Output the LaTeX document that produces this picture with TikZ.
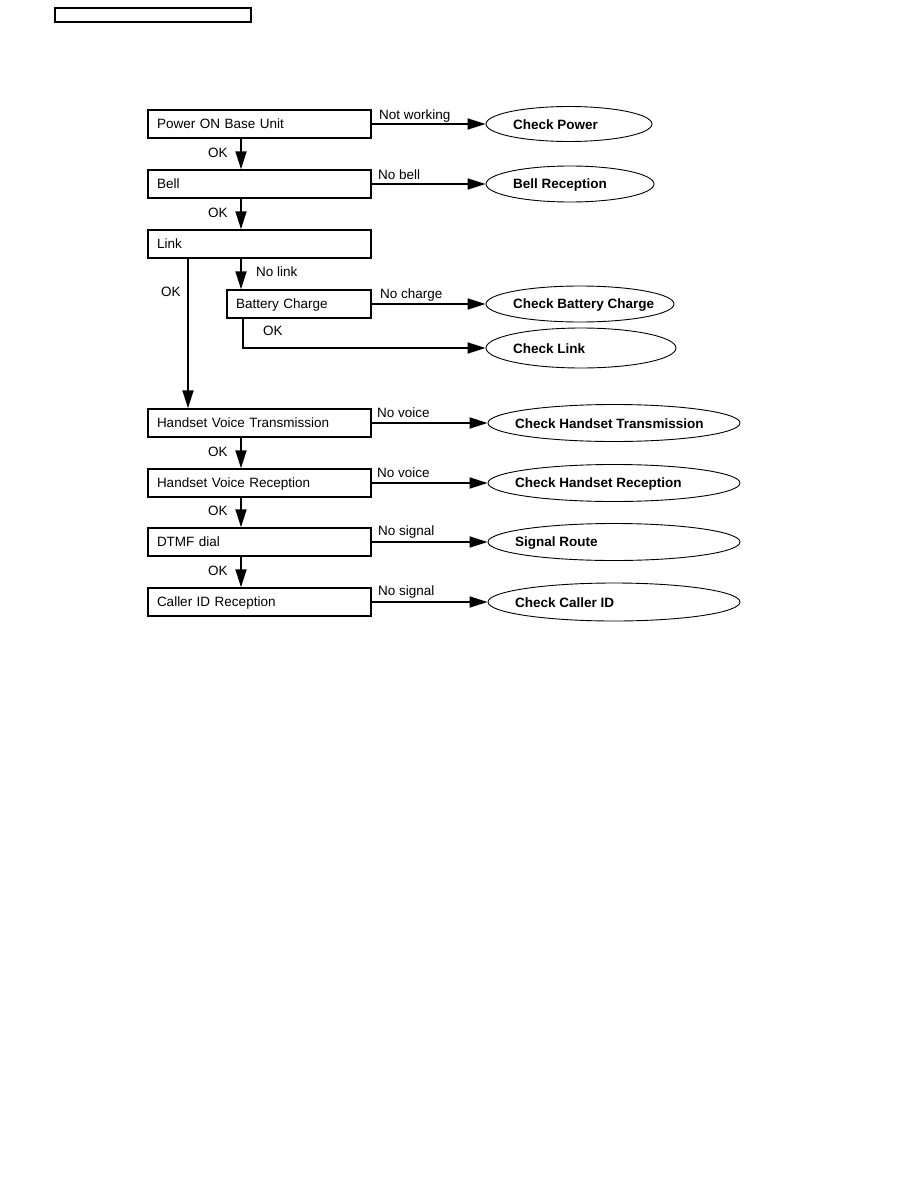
\documentclass[tikz,border=0pt]{standalone}
\usepackage{fontspec}
\setmainfont{Liberation Sans}
\usetikzlibrary{arrows.meta,shapes.geometric}

\begin{document}
\begin{tikzpicture}[x=1pt, y=-1pt,
    every node/.style={font=\fontsize{13.5}{16}\selectfont},
    mainbox/.style={draw, line width=1.5pt, text width=205pt, inner xsep=9pt, inner ysep=0pt, minimum height=28pt, text height=9.7pt, text depth=0pt, align=left},
    subbox/.style={mainbox, text width=126pt},
    check/.style={draw, ellipse, line width=0.9pt, inner sep=0pt},
    checktext/.style={font=\fontsize{13.5}{16}\selectfont\bfseries, anchor=west, inner sep=0pt},
    lbl/.style={anchor=west, inner sep=0pt},
    arr/.style={line width=1.8pt, -{Triangle[length=18pt,width=11pt]}}]

	\useasboundingbox (0,0) rectangle (918,1188);

	% Header box
	\draw[line width=1.4pt] (55,8) rectangle (251,22);

	% Columns of the down arrows
	\coordinate (okcol) at (241,0);
	\coordinate (okleft) at (188,0);
	\coordinate (battcol) at (243,0);

	% Steps
	\node[mainbox] (power) at (259.5,124) {Power ON Base Unit};
	\node[mainbox] (bell) at (259.5,184) {Bell};
	\node[mainbox] (link) at (259.5,244) {Link};
	\node[subbox] (batt) at (299,304) {Battery Charge};
	\node[mainbox] (hvt) at (259.5,423) {Handset Voice Transmission};
	\node[mainbox] (hvr) at (259.5,483) {Handset Voice Reception};
	\node[mainbox] (dtmf) at (259.5,542) {DTMF dial};
	\node[mainbox] (cid) at (259.5,602) {Caller ID Reception};

	% Checks
	\node[check, minimum width=166pt, minimum height=35pt] (cpow) at (569,124) {};
	\node[checktext] (cpow-t) at (513,125) {Check Power};
	\node[check, minimum width=168pt, minimum height=36pt] (bellr) at (570,184) {};
	\node[checktext] (bellr-t) at (513,185) {Bell Reception};
	\node[check, minimum width=188pt, minimum height=36pt] (cbatt) at (580,304) {};
	\node[checktext] (cbatt-t) at (513,305) {Check Battery Charge};
	\node[check, minimum width=190pt, minimum height=40pt] (clink) at (581,348) {};
	\node[checktext] (clink-t) at (513,349) {Check Link};
	\node[check, minimum width=252pt, minimum height=37pt] (chtx) at (614,423) {};
	\node[checktext] (chtx-t) at (515,424) {Check Handset Transmission};
	\node[check, minimum width=252pt, minimum height=37pt] (chrx) at (614,483) {};
	\node[checktext] (chrx-t) at (515,484) {Check Handset Reception};
	\node[check, minimum width=252pt, minimum height=37pt] (sroute) at (614,542) {};
	\node[checktext] (sroute-t) at (515,543) {Signal Route};
	\node[check, minimum width=252pt, minimum height=38pt] (ccid) at (614,602) {};
	\node[checktext] (ccid-t) at (515,603) {Check Caller ID};

	% Faults
	\draw[arr] (power.east) -- (power.east -| cpow.west);
	\node[lbl] (nwork) at (379,116) {Not working};
	\draw[arr] (bell.east) -- (bell.east -| bellr.west);
	\node[lbl] (nbell) at (378,175) {No bell};
	\draw[arr] (batt.east) -- (batt.east -| cbatt.west);
	\node[lbl] (ncharge) at (380,295) {No charge};
	\draw[arr] (batt.south -| battcol) |- (clink.west);
	\node[lbl] (okbatt) at (263,331) {OK};
	\draw[arr] (hvt.east) -- (hvt.east -| chtx.west);
	\node[lbl] (nvoice1) at (377,413) {No voice};
	\draw[arr] (hvr.east) -- (hvr.east -| chrx.west);
	\node[lbl] (nvoice2) at (377,473) {No voice};
	\draw[arr] (dtmf.east) -- (dtmf.east -| sroute.west);
	\node[lbl] (nsig1) at (378,532) {No signal};
	\draw[arr] (cid.east) -- (cid.east -| ccid.west);
	\node[lbl] (nsig2) at (378,592) {No signal};

	% OK path
	\draw[arr] (power.south -| okcol) -- (bell.north -| okcol);
	\node[lbl] (ok1) at (208,153) {OK};
	\draw[arr] (bell.south -| okcol) -- (link.north -| okcol);
	\node[lbl] (ok2) at (208,213) {OK};
	\draw[arr] (link.south -| okcol) -- (batt.north -| okcol);
	\node[lbl] (nlink) at (256,272) {No link};
	\draw[arr] (link.south -| okleft) -- (hvt.north -| okleft);
	\node[lbl] (ok3) at (161,292) {OK};
	\draw[arr] (hvt.south -| okcol) -- (hvr.north -| okcol);
	\node[lbl] (ok4) at (208,452) {OK};
	\draw[arr] (hvr.south -| okcol) -- (dtmf.north -| okcol);
	\node[lbl] (ok5) at (208,511) {OK};
	\draw[arr] (dtmf.south -| okcol) -- (cid.north -| okcol);
	\node[lbl] (ok6) at (208,571) {OK};

\end{tikzpicture}
\end{document}
